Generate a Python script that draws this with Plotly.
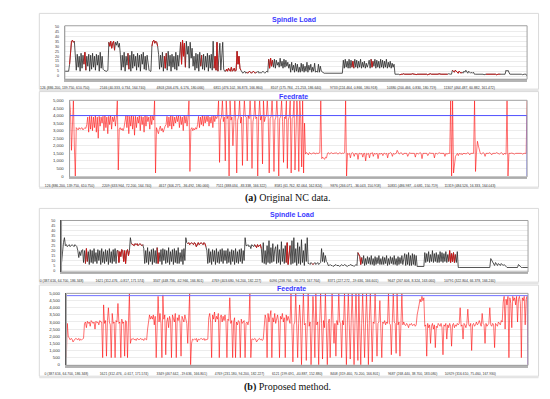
import plotly.graph_objects as go

# ---------------- data (about one sample per pixel column) ----------------
spindle_a = [5, 5, 5, 5, 5,
             12, 25, 35,
             36, 34, 35,
             21, 6, 22, 9, 20, 5, 23, 8, 21, 12, 24, 6, 20, 10, 22, 5, 21, 7, 23, 9, 20, 6, 22, 11, 21, 5, 24, 8, 20, 7,
             6, 5, 5, 5, 6,
             34, 30, 35, 28, 33, 35, 26, 34, 31, 35, 29, 33,
             22, 6, 21, 9, 24, 5, 20, 11, 23, 7, 21, 5, 25, 8, 22, 10, 20, 6, 23, 9, 21, 5, 22, 12, 24, 7, 20, 6, 21, 9,
             6, 5, 5,
             30, 35, 36, 33, 35, 34, 30,
             22, 7, 21, 9, 24, 5, 20, 8, 23, 6, 25, 10, 21, 5, 22, 9, 20, 7, 24, 6, 21, 10, 22,
             34, 12, 36, 20, 33, 9, 35, 22, 30, 8, 34, 18, 28, 10,
             20, 6, 23, 8, 22, 5, 24, 10, 21, 7, 22, 6, 20, 9, 23, 5, 21, 8, 22, 6,
             35, 8, 20, 6, 34, 5, 18, 33, 6, 22, 34, 7, 5,
             5, 7, 5, 8, 6, 5, 9, 5, 6, 8, 5, 6,
             25, 12, 20, 8, 6,
             4, 3, 4, 5, 3, 4, 3, 4, 5, 4, 3, 4, 5, 4, 3, 4, 4, 5, 3, 4, 3, 4, 5, 4, 3, 4, 5, 4,
             17, 8, 18, 10, 16, 9, 17, 8, 16, 11, 14, 9, 18, 10, 15, 8, 17, 9, 16, 10, 14, 8,
             12, 4, 14, 6, 11, 4, 13, 5, 12, 4, 9, 4, 13, 5, 12, 4, 10, 5, 14, 4, 11, 6, 12, 4, 9, 5, 13, 4, 5, 4,
             12, 4, 10, 5, 4, 4,
             3, 3, 3, 3, 3, 3, 3, 3, 3, 3, 3, 3, 3, 3, 3, 3, 3, 3, 3, 3,
             16, 8, 17, 9, 15, 8, 17, 8, 16, 9, 15, 8, 17, 9, 16, 8, 15, 9, 17, 8, 14, 9, 15, 8, 13, 9, 12,
             16, 8, 17, 9, 15, 10, 17, 8, 16, 9, 15, 8, 17, 9, 16, 8, 15, 9, 17, 8, 14, 9, 15, 8, 13, 9, 12,
             2, 2, 2.5, 2, 2, 1.5, 2, 2, 2, 2.5, 2, 2, 2, 1.5, 2, 2, 2, 2, 2.5, 2,
             2, 2, 1.5, 2, 2, 2, 2, 2, 2.5, 2, 2, 2, 2, 2, 1.5, 2, 2, 2.5, 2, 2,
             2, 2, 2, 1.5, 2, 2, 2.5, 2, 2, 2, 2, 2, 1.5, 2, 2, 2, 2.5, 2, 2, 2,
             6, 5, 4, 6, 5, 4, 3, 5, 4, 3, 4, 3, 5, 4, 6, 4, 3, 5, 4, 3, 4, 3, 4,
             2, 2, 2, 2, 2.5, 2, 2, 2, 2, 2, 1.5, 2, 2, 2, 2, 2, 2, 2, 2.5, 2, 2, 2, 2, 1.5, 2, 2, 2, 2, 2, 2, 2.5, 2, 2,
             6, 5, 6, 4,
             2, 2, 2, 2, 2, 2, 2, 2.5, 2, 2, 2, 2, 2, 1.5, 2, 2, 2, 2,
             0]
spindle_a_red_ranges = [(5, 10), (20, 22), (46, 52), (66, 67), (91, 97), (104, 106), (121, 126),
                        (142, 143), (156, 160), (168, 184), (190, 200), (213, 217), (300, 302),
                        (320, 322), (350, 400), (405, 415), (440, 455)]

feed_a = [5000, 4200, 1700, 3500, 5000, 2000, 0, 3200,
          3150, 3050, 3200, 3100, 3150, 3200, 3050, 3100, 3200, 3150,
          3400, 3900, 2900, 3950, 3100, 3950, 3000, 3900, 3200, 4000, 2900, 3900, 2500, 3950, 3300, 3900,
          3500, 3950, 3000, 4000, 3200, 3900, 2800, 3950, 3400, 4000, 3100, 3900, 3600, 3950, 3300, 3900,
          5000, 400,
          3100, 3200, 3050, 3150, 3000, 3200,
          3700, 4000, 3200, 4000, 2800, 3950, 3300, 4000, 3100, 3950, 2700, 3950, 3200, 3900, 3500, 4000,
          3000, 3950, 3400, 3900, 2900, 4000, 3300, 3950, 3600, 3900, 3100, 4000, 3400, 3950, 3700,
          5000, 200,
          3200, 3000, 2800, 3100, 3300, 3000, 3150, 2900, 3200, 3300,
          3400, 3950, 3200, 3900, 3300, 4000, 3100, 3950, 3300, 3900, 3500, 3950,
          3600, 4000, 3200, 3950, 3400, 3900, 3000, 4000, 3500, 3950, 3300, 3900,
          5000, 300,
          3100, 3200, 3000, 3150, 3050, 3200, 3100,
          3400, 3950, 3200, 3900, 3400, 4000, 3300, 3950, 3500, 3950,
          3600, 4000, 3300, 3900, 3500, 3950, 3200, 4000, 3600, 3950,
          3800, 3950, 5000, 900, 3700, 3900, 5000, 3600, 3900, 1000,
          5000, 3800, 3950, 0, 5000, 3700, 3900, 2000, 3850, 5000,
          3600, 200, 3700, 3950, 5000, 3500, 3900, 700, 3800, 5000,
          3950, 3900, 1000, 4000, 3800, 5000, 3700, 500, 3600, 3950,
          5000, 3800, 3900, 0, 3900, 5000, 3700, 3950, 800, 5000,
          3600, 3900, 3950, 5000, 3800, 200, 3800, 3950, 5000, 3700,
          300, 3700, 3900, 5000, 3800, 0, 3800, 3950, 5000, 3600,
          900, 3900, 3800, 5000, 500, 3700, 3950, 5000, 200, 3800,
          3900, 5000, 400, 3600, 5000, 3900, 300, 5000, 3800, 600,
          5000, 200, 3500,
          1450, 1550, 1500, 1400, 1550, 1500, 1450, 1500, 1500, 1550, 1450, 1500, 1520, 1480, 1500, 1550,
          5000,
          1150, 1250, 1200, 1100, 1250, 1200,
          1500, 1550, 1450, 1500, 1550, 1500, 1480, 1520, 1500, 1550, 1500, 1450, 1500, 1550, 1500, 1480,
          1520, 1500, 1550,
          5000, 0,
          1500, 1450, 1500, 1200, 1500, 1550, 1500, 1300, 1500, 1450,
          1500, 1100, 1500, 1500, 1450, 1500, 1250, 1500, 1500, 1000,
          1500, 1450, 1500, 1200, 1500, 1500, 1550, 1300, 1500, 1450,
          1500, 1500, 1150, 1500, 1450, 1500, 1500, 1350, 1500, 1500,
          1450, 1500, 1200, 1500, 1500, 1550, 1500, 1300, 1500, 1450,
          1500, 1500, 1700, 1500, 1450, 1500, 1550, 1500, 1400, 1500,
          1500, 1450, 1500, 1300, 1500, 1550, 1500, 1500, 1450, 1500,
          1500, 1250, 1500, 1500, 1450, 1500, 1550, 1500, 1150, 1500,
          1500, 1450, 1500, 1500, 1350, 1500, 1550, 1500, 1500, 1450,
          1500, 1200, 1500, 1500, 1450, 1500, 1550, 1500, 1500, 1450,
          1500, 1500, 1300, 1500, 1450, 1500, 1500, 1500,
          5000, 0, 5000, 200,
          1100, 1300, 1400, 1500, 1350, 1500, 1450, 1500, 1400, 1500, 1480, 1500, 1450, 1500, 1550, 1500,
          1400, 1500, 1500, 1450, 1500,
          5000, 300,
          1500, 2300, 2000, 1700,
          1500, 1450, 1500, 1550, 1500, 1300, 1500, 1500, 1450, 1500, 1550, 1500, 1400, 1500,
          1500, 1450, 1500, 1550, 1500, 1500, 1450, 1500, 1550, 1500, 1400, 1500, 1500, 1450,
          5000, 0,
          1500, 1480, 1500, 1520, 1500, 1500, 1450, 1500, 1500, 1480, 1500, 1520, 1500, 1500, 1450, 1500,
          1500, 1500,
          1500, 5000]
feed_a_limit = 4000

spindle_b = [8, 20, 28, 33,
             25, 26, 24, 25, 26, 24, 25, 26, 25, 24, 26, 25, 24,
             20, 13, 19, 15, 20,
             21, 8, 20, 7, 22, 9, 19, 6, 21, 8, 20, 7, 22, 9, 18, 7, 21, 10, 20, 6, 22, 8, 19, 7, 21, 9, 20, 6,
             22, 8, 19, 7, 21, 9, 22, 7, 20,
             20, 8, 19, 14, 21, 20, 9, 20, 7, 19, 21, 15, 20,
             33,
             27, 26, 26, 25, 27, 26, 27, 25, 26, 27, 26, 25, 26,
             22, 7, 20, 8, 23, 6, 19, 9, 21, 6, 22, 8, 20, 7, 23, 7, 18, 9, 21, 6, 22, 10,
             21, 7, 20, 8, 23, 6, 19, 9, 21, 6, 22, 8, 20, 7, 23, 7, 18, 9, 21, 6, 22, 10,
             33, 28,
             27, 28, 26, 27, 28, 27, 26, 28, 27, 24, 27, 28, 26, 27, 28, 27, 26, 28, 27, 24,
             20, 7, 22, 8, 19, 6, 21, 9, 20, 6, 22, 8, 19, 7, 21, 9, 22, 7, 20, 10,
             20, 7, 22, 8, 19, 6, 21, 9, 20, 6, 22, 8, 19, 7, 21, 9, 22, 7, 20, 10,
             33, 25,
             25, 26, 24, 25, 22, 26, 25, 24, 26, 25, 23, 26, 24, 25, 26,
             22, 8, 28, 7, 20, 6, 25, 8, 30, 7, 23, 8, 27, 9, 21, 24, 7, 26, 8, 21, 6, 29, 9, 22, 7, 25, 8, 28, 6, 20,
             25, 6, 30, 7, 33, 8, 22, 5, 28, 7, 24, 6, 31, 8, 20, 5, 27, 9, 33, 7,
             7, 6, 8, 7, 6, 7, 8, 6, 7, 8, 6, 7, 8,
             22, 9, 18, 8, 15, 9, 8,
             5, 5, 6, 5, 5, 4, 5, 5, 6, 5, 5, 5, 4, 5, 6, 5, 5, 6, 5, 5, 4, 5, 5, 6, 5, 5, 5, 4, 5, 6, 5,
             18, 16,
             14, 6, 13, 7, 15, 5, 12, 6, 14, 7, 13, 6, 15, 6, 12, 5, 14, 6, 13, 7, 15, 6, 12, 6,
             14, 6, 13, 7, 15, 5, 12, 6, 14, 7, 13, 6, 15, 6, 12, 5, 14, 6, 13, 7, 15, 6, 12,
             17, 5, 16, 6, 18, 5, 15, 5, 17, 6, 16, 5, 15,
             4, 4, 4, 4, 4, 4, 4, 4,
             18, 8, 17, 9, 19, 8, 16, 9, 20, 8, 17, 9, 18, 8, 16, 8, 19, 9,
             18, 8, 17, 9, 19, 8, 16, 9, 20, 8, 17, 9, 18, 8, 16, 8, 19,
             3, 3, 3, 3, 3, 3, 3, 3, 3, 3, 3, 3, 3, 3, 3, 3, 3, 3, 3, 3, 3, 3, 3, 3, 3, 3, 3, 3, 3, 3, 3, 3, 3, 3,
             12, 10, 9,
             7, 5, 8, 6, 5, 7, 6, 5, 7, 6, 5, 6, 5,
             3, 3, 3, 3, 3, 3, 3, 3, 3, 3, 3, 3, 3,
             6, 5,
             3, 3, 3, 3, 3, 3, 3, 3, 3]
spindle_b_red_ranges = [(25, 27), (59, 71), (73, 85), (100, 102), (132, 151), (202, 209),
                        (235, 239), (262, 264), (310, 314), (405, 412)]

feed_b = [500, 2900, 2000,
          1800, 1750, 1850, 1800, 1600, 1750, 1800, 1850, 1800, 1750, 1850, 1700, 1800, 1750, 1800, 1850,
          2900, 3000, 2600, 3050, 2900, 3000, 2700, 3100, 3000, 2900, 3000, 2500, 3050, 2950, 3000, 2800,
          3100, 3000,
          3000, 500, 4200, 2900, 3100, 600, 3100, 4000, 3000, 2800, 500, 3600, 2900, 3000, 500, 3100,
          3000, 4300, 2900, 3000, 500, 3200, 2900, 3000, 600, 3100, 3000,
          500, 3000, 5000, 1500, 1800,
          1800, 1850, 1750, 1800, 1700, 1850, 1800, 1750, 1800, 1850, 1750, 1800, 1700, 1850, 1800, 1750,
          2500, 3000, 3500, 3200, 3400,
          3200, 3500, 2800, 3400, 500, 3300, 4800, 3000, 3600, 2900, 500, 4900, 3200, 3500, 700, 3000,
          3300, 2600, 3400, 3100, 500, 3500, 3200, 3000, 3600, 500, 3300, 3100, 3500, 2900, 600, 3400,
          3200, 3000, 3500, 3100, 2900,
          1500, 3000, 5000, 0, 1500, 1800, 1750,
          1800, 1750, 1850, 1600, 1800, 1750, 1800, 1850, 1800, 1750, 1850, 1700, 1800, 1750, 1800,
          3300, 3600, 3000, 500, 3500, 3200, 3700, 3000, 3400, 3200, 3600, 500, 3300, 3500, 3000, 3400,
          3100, 3500,
          3000, 500, 3200, 3100, 4700, 2900, 3100, 500, 3000, 3300, 500, 3000, 2800, 3100, 3000, 500,
          3200, 2900, 3000, 3100, 500, 2900, 3000, 2800, 3100,
          5000, 500, 1800,
          1800, 1750, 1850, 1800, 1600, 1750, 1800, 1850, 1750, 1800, 1700, 1800,
          3000, 3500, 3200, 500, 3600, 3000, 3400, 3800, 500, 3300, 3000, 3600, 2900, 3200, 3500, 3000,
          500, 3400, 3200, 3600, 3000, 3300, 500, 3500, 3100, 3400, 3200,
          2900, 5000, 3000, 200, 2800, 3000, 5000, 3100, 500, 2900,
          4200, 3000, 0, 3000, 5000, 2800, 2900, 300, 3100, 5000,
          2700, 3000, 0, 2900, 4800, 3200, 500, 5000, 2800, 3000,
          0, 3000, 5000, 2900, 400, 3100, 2600, 5000, 3000, 0,
          2900, 3200, 500, 2800, 5000, 3000, 1500, 2900, 600, 3100,
          2800, 5000, 3000, 2900, 500, 3100, 2800, 5000, 2900, 0,
          3000, 5000, 2800, 400, 3100, 5000, 2900, 0, 3000, 5000,
          2800, 300, 5000, 3100, 0, 2900, 5000, 2800, 500, 3000,
          5000, 2900, 0, 3100, 5000, 2800, 200, 3000, 2900, 5000,
          3100, 600, 2900, 3000, 4500, 2800, 500, 3000, 2900, 3100,
          2800, 3000, 2900,
          5000, 2900, 2800, 700, 3000, 5000, 3000, 2900, 800, 5000, 2800, 3000, 600, 2900, 5000, 2800, 3000,
          2800, 2750, 2900, 2800, 2600, 2850, 2800, 2900, 2750, 2800, 2850, 2700, 2800,
          3500, 4000, 4200, 4600, 4400, 4800, 4500, 4700,
          2700, 2800, 600, 2900, 2600, 2800, 1500, 2700, 2900, 2500, 2800, 1200, 2700, 2600, 2900, 2800,
          2700, 2900, 2600, 700, 2800, 2700, 2900, 1800, 2800, 2600, 2900, 2700, 1300, 2800, 2900, 2600,
          2800, 2700, 2900,
          2800, 2900, 4000, 2700, 2800, 1800, 2900, 2800, 2600, 2900, 3900, 2800, 2700, 2900, 1000, 2800,
          2900, 2700, 2800, 3000, 2800, 2900, 3100, 2800, 2700, 3600, 2900, 2800, 1500, 2900, 2700, 2800,
          2900, 4000, 2800, 2700, 2900, 2800, 1200, 2900, 2800, 2700, 3000, 2900, 2800, 3100, 3000,
          4400, 4800, 2500, 4600, 4200, 4800, 500, 4700, 4300, 2600, 4800, 4500, 4700, 4200, 4800, 3000,
          4600, 4800, 4300, 500, 4700, 4500, 4800, 2800, 4600, 4800,
          0]
feed_b_limit = 4850

ticks_spindle_a = ["126 (886.200, 139.750, 610.750)", "2146 (40.333, 0.734, 164.740)",
                   "4803 (206.476, 6.176, 180.066)", "6811 (476.102, 36.873, 166.860)",
                   "8107 (175.784, -21.253, 186.640)", "9733 (224.464, 0.866, 180.918)",
                   "10380 (200.466, 0.830, 180.719)", "11307 (464.487, 60.882, 161.472)"]
ticks_feed_a = ["126 (886.200, 139.750, 610.750)", "2209 (633.964, 72.200, 164.740)",
                "4617 (306.271, -36.492, 180.066)", "7511 (388.034, -83.338, 166.322)",
                "8581 (61.762, 82.064, 162.824)", "9876 (266.071, -36.043, 150.918)",
                "10831 (486.987, -0.681, 150.719)", "11319 (484.526, 16.333, 164.043)"]
ticks_spindle_b = ["0 (387.616, 64.700, 186.348)", "1621 (312.476, -0.817, 171.574)",
                   "3347 (448.736, -62.966, 166.801)", "4769 (403.680, 94.200, 182.227)",
                   "6096 (238.766, -90.273, 167.764)", "8371 (227.272, -19.636, 166.601)",
                   "9647 (267.606, 8.324, 163.060)", "10791 (322.804, 66.378, 166.240)"]
ticks_feed_b = ["0 (387.616, 64.700, 186.348)", "1621 (312.476, -0.617, 171.574)",
                "3349 (467.642, -19.636, 166.801)", "4769 (231.180, 94.200, 182.227)",
                "6121 (199.691, -40.887, 152.880)", "8408 (319.460, 70.200, 166.801)",
                "9687 (268.440, 38.700, 183.080)", "10929 (316.610, 75.460, 167.930)"]

spindle_ticks = list(range(0, 51, 5))
feed_ticks = list(range(0, 5001, 500))

# ---------------- figure ----------------
W, H = 550, 399
fig = go.Figure()


def red_mask(vals, ranges):
    out = []
    for i, v in enumerate(vals):
        out.append(v if any(a <= i <= b for a, b in ranges) else None)
    return out


panels = [
    ("", (41.7, 24.0, 526.0, 78.0)),
    ("2", (46.7, 99.3, 526.0, 176.7)),
    ("3", (38.3, 220.7, 527.0, 272.7)),
    ("4", (43.3, 294.3, 527.0, 367.0)),
]

BLACK = dict(color="#2a2a2a", width=0.8)
RED_S = dict(color="#e01010", width=0.8)
RED_F = dict(color="rgba(255,0,0,0.7)", width=0.8)

xa = list(range(len(spindle_a)))
fig.add_trace(go.Scatter(x=xa, y=spindle_a, mode="lines", line=BLACK,
                         xaxis="x", yaxis="y", showlegend=False))
fig.add_trace(go.Scatter(x=xa, y=red_mask(spindle_a, spindle_a_red_ranges), mode="lines",
                         line=RED_S, connectgaps=False, xaxis="x", yaxis="y", showlegend=False))

xf = list(range(len(feed_a)))
fig.add_trace(go.Scatter(x=xf, y=feed_a, mode="lines", line=RED_F,
                         xaxis="x2", yaxis="y2", showlegend=False))
fig.add_trace(go.Scatter(x=[0, len(feed_a) - 1, len(feed_a) - 1], y=[feed_a_limit, feed_a_limit, 0],
                         mode="lines", line=dict(color="#5050ff", width=1),
                         xaxis="x2", yaxis="y2", showlegend=False))

xb = list(range(len(spindle_b)))
fig.add_trace(go.Scatter(x=xb, y=spindle_b, mode="lines", line=BLACK,
                         xaxis="x3", yaxis="y3", showlegend=False))
fig.add_trace(go.Scatter(x=xb, y=red_mask(spindle_b, spindle_b_red_ranges), mode="lines",
                         line=RED_S, connectgaps=False, xaxis="x3", yaxis="y3", showlegend=False))

xg = list(range(len(feed_b)))
fig.add_trace(go.Scatter(x=xg, y=feed_b, mode="lines", line=RED_F,
                         xaxis="x4", yaxis="y4", showlegend=False))
fig.add_trace(go.Scatter(x=[0, len(feed_b) - 1, len(feed_b) - 1], y=[feed_b_limit, feed_b_limit, 0],
                         mode="lines", line=dict(color="#7070ff", width=1),
                         xaxis="x4", yaxis="y4", showlegend=False))

series_len = [len(spindle_a), len(feed_a), len(spindle_b), len(feed_b)]
xticktexts = [ticks_spindle_a, ticks_feed_a, ticks_spindle_b, ticks_feed_b]
yranges = [[-3, 50.5], [-60, 5010], [-1.5, 50.3], [-40, 5010]]
yticks = [spindle_ticks, feed_ticks, spindle_ticks, feed_ticks]
yticktext = [[str(v) for v in spindle_ticks], [f"{v:,}" for v in feed_ticks],
             [str(v) for v in spindle_ticks], [f"{v:,}" for v in feed_ticks]]
yfont = [3.6, 4.3, 3.6, 4.3]
left_line = ["#a8a8a8", "#b8b8b8", "#505050", "#505050"]

layout = dict(width=W, height=H, margin=dict(l=0, r=0, t=0, b=0),
              paper_bgcolor="white", plot_bgcolor="white", showlegend=False,
              hovermode=False)

shapes = []
for k, (suf, (x0, y0, x1, y1)) in enumerate(panels):
    n = series_len[k]
    layout["xaxis" + suf] = dict(
        domain=[x0 / W, x1 / W], anchor="y" + suf, range=[0, n - 1],
        tickvals=[i * (n - 1) / 8 for i in range(8)], ticktext=xticktexts[k],
        tickfont=dict(size=3.4, color="#333", family="Liberation Sans"),
        ticks="outside", ticklen=3, tickcolor="rgba(0,0,0,0)",
        showgrid=False, zeroline=False, showline=True, linecolor="#b4b4b4", linewidth=2.5)
    layout["yaxis" + suf] = dict(
        domain=[1 - y1 / H, 1 - y0 / H], anchor="x" + suf, range=yranges[k],
        tickvals=yticks[k], ticktext=yticktext[k],
        tickfont=dict(size=yfont[k], color="#333", family="Liberation Sans"),
        ticks="outside", ticklen=4, tickcolor="rgba(0,0,0,0)",
        showgrid=True, gridcolor="#e4e4e4", gridwidth=0.7, zeroline=False,
        showline=True, linecolor=left_line[k], linewidth=1.5 if k >= 2 else 1)
    shapes.append(dict(type="rect", xref="paper", yref="paper", x0=x0 / W, x1=x1 / W,
                       y0=1 - y1 / H, y1=1 - y0 / H, line=dict(color="#a0a0a0", width=1),
                       layer="above"))

frames = [(15, 11.5, 538, 88), (15, 90.5, 538, 187), (15, 208.5, 538, 283), (15, 286, 538, 378)]
for (x0, y0, x1, y1) in frames:
    shapes.append(dict(type="rect", xref="paper", yref="paper", x0=x0 / W, x1=x1 / W,
                       y0=1 - y1 / H, y1=1 - y0 / H, line=dict(color="#dadada", width=1),
                       layer="below"))
    shapes.append(dict(type="line", xref="paper", yref="paper", x0=x0 / W, x1=x1 / W,
                       y0=1 - (y1 + 1) / H, y1=1 - (y1 + 1) / H, line=dict(color="#e4e4e4", width=2),
                       layer="below"))
layout["shapes"] = shapes

title_font = dict(size=7, color="#3a3aff", family="Liberation Sans")
annotations = [
    dict(text="<b>Spindle Load</b>", x=282 / W, y=1 - 18.3 / H, xref="paper", yref="paper",
         showarrow=False, font=title_font, xanchor="center", yanchor="middle"),
    dict(text="<b>Feedrate</b>", x=281 / W, y=1 - 95.5 / H, xref="paper", yref="paper",
         showarrow=False, font=title_font, xanchor="center", yanchor="middle"),
    dict(text="<b>Spindle Load</b>", x=280 / W, y=1 - 215.5 / H, xref="paper", yref="paper",
         showarrow=False, font=title_font, xanchor="center", yanchor="middle"),
    dict(text="<b>Feedrate</b>", x=279.5 / W, y=1 - 289.5 / H, xref="paper", yref="paper",
         showarrow=False, font=title_font, xanchor="center", yanchor="middle"),
    dict(text="<b>(a)</b> Original NC data.", x=275 / W, y=1 - 197.5 / H, xref="paper", yref="paper",
         showarrow=False, font=dict(size=10, color="#111", family="Liberation Serif"),
         xanchor="center", yanchor="middle"),
    dict(text="<b>(b)</b> Proposed method.", x=275 / W, y=1 - 389 / H, xref="paper", yref="paper",
         showarrow=False, font=dict(size=10, color="#111", family="Liberation Serif"),
         xanchor="center", yanchor="middle"),
]
layout["annotations"] = annotations

fig.update_layout(**layout)
fig.write_html("out.html", config={"displayModeBar": False, "staticPlot": True},
               post_script="document.body.style.margin='0';document.body.style.overflow='hidden';")
